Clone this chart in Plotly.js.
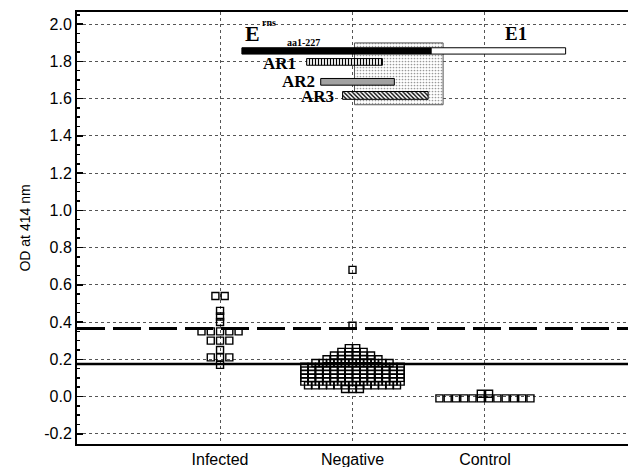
<!DOCTYPE html>
<html>
<head>
<meta charset="utf-8">
<script src="https://cdn.plot.ly/plotly-3.0.1.min.js"></script>
<style>html,body{margin:0;padding:0;background:#fff;}#chart{width:630px;height:467px;}</style>
</head>
<body>
<div id="chart"></div>
<script>
// ---- data ----
var categories = ["Infected", "Negative", "Control"];
var infectedValues = [0.54, 0.54, 0.46, 0.43, 0.40, 0.35, 0.35, 0.35, 0.35, 0.35,
  0.30, 0.30, 0.30, 0.25, 0.21, 0.21, 0.21, 0.17];
var negativeValues = [0.68, 0.38,
  0.26, 0.26,
  0.24, 0.24, 0.24, 0.24,
  0.22, 0.22, 0.22, 0.22, 0.22, 0.22,
  0.20, 0.20, 0.20, 0.20, 0.20, 0.20, 0.20, 0.20,
  0.18, 0.18, 0.18, 0.18, 0.18, 0.18, 0.18, 0.18, 0.18, 0.18, 0.18,
  0.16, 0.16, 0.16, 0.16, 0.16, 0.16, 0.16, 0.16, 0.16, 0.16, 0.16, 0.16, 0.16, 0.16,
  0.14, 0.14, 0.14, 0.14, 0.14, 0.14, 0.14, 0.14, 0.14, 0.14, 0.14, 0.14, 0.14, 0.14,
  0.12, 0.12, 0.12, 0.12, 0.12, 0.12, 0.12, 0.12, 0.12, 0.12, 0.12, 0.12, 0.12, 0.12,
  0.10, 0.10, 0.10, 0.10, 0.10, 0.10, 0.10, 0.10, 0.10, 0.10, 0.10, 0.10, 0.10, 0.10,
  0.08, 0.08, 0.08, 0.08, 0.08, 0.08, 0.08, 0.08, 0.08, 0.08, 0.08, 0.08, 0.08, 0.08,
  0.06, 0.06, 0.06, 0.06, 0.06, 0.06, 0.06, 0.06, 0.06, 0.06, 0.06, 0.06, 0.06,
  0.04, 0.04, 0.04];
var controlValues = [-0.01, -0.01, -0.01, -0.01, -0.01, -0.01, -0.01, -0.01, -0.01, -0.01, -0.01, -0.01,
  0.015, 0.015];
var cutoffDashed = 0.365;
var cutoffSolid = 0.175;
var yTickVals = [-0.2, 0.0, 0.2, 0.4, 0.6, 0.8, 1.0, 1.2, 1.4, 1.6, 1.8, 2.0];
var yTickText = ["-0.2", "0.0", "0.2", "0.4", "0.6", "0.8", "1.0", "1.2", "1.4", "1.6", "1.8", "2.0"];

// inset diagram regions (drawn in chart coordinates)
var insetNames = ["box", "Erns", "E1", "AR1", "AR2", "AR3"];
var insetStart = [2.015, 1.165, 2.594, 1.654, 1.76, 1.925];
var insetEnd   = [2.684, 2.594, 3.609, 2.226, 2.316, 2.571];
var insetY     = [1.733, 1.856, 1.856, 1.797, 1.69, 1.617];
var insetThick = [0.332, 0.034, 0.034, 0.036, 0.036, 0.042];

// ---- swarm layout ----
function swarm(vals, center, bin, dx) {
  var groups = {};
  vals.forEach(function (v) {
    var k = Math.round(v / bin);
    (groups[k] = groups[k] || []).push(v);
  });
  var xs = [], ys = [];
  Object.keys(groups).forEach(function (k) {
    var g = groups[k], n = g.length;
    g.forEach(function (v, i) {
      xs.push(center + (i - (n - 1) / 2) * dx);
      ys.push(v);
    });
  });
  return {x: xs, y: ys};
}
var sInf = swarm(infectedValues, 1, 0.03, 0.07);
var sNeg = swarm(negativeValues, 2, 0.02, 0.056);
var sCon = swarm(controlValues, 3, 0.02, 0.0625);

var mk = {symbol: "square-open", size: 7, color: "#000", line: {width: 1.4, color: "#000"}};
var traces = [];

// inset bars
var insetStyles = {
  box: {color: "#fff", line: {color: "#555", width: 1}, pattern: {shape: ".", fgcolor: "#999", bgcolor: "#fff", size: 3, solidity: 0.25}},
  Erns: {color: "#000", line: {color: "#000", width: 1}},
  E1: {color: "#fff", line: {color: "#000", width: 1}},
  AR1: {color: "#fff", line: {color: "#000", width: 1}, pattern: {shape: "|", fgcolor: "#000", bgcolor: "#fff", size: 3, solidity: 0.4}},
  AR2: {color: "#fff", line: {color: "#000", width: 1}, pattern: {shape: "-", fgcolor: "#444", bgcolor: "#fff", size: 2, solidity: 0.5}},
  AR3: {color: "#fff", line: {color: "#000", width: 1}, pattern: {shape: "\\", fgcolor: "#000", bgcolor: "#fff", size: 3, solidity: 0.45}}
};
insetNames.forEach(function (n, i) {
  traces.push({
    type: "bar", orientation: "h",
    y: [insetY[i]], base: [insetStart[i]], x: [insetEnd[i] - insetStart[i]],
    width: [insetThick[i]], marker: insetStyles[n], hoverinfo: "skip"
  });
});

// cutoff lines
traces.push({type: "scatter", mode: "lines", x: [-0.08, 4.08], y: [cutoffDashed, cutoffDashed],
  line: {color: "#000", width: 3, dash: "28px,8px"}, hoverinfo: "skip"});
traces.push({type: "scatter", mode: "lines", x: [-0.08, 4.08], y: [cutoffSolid, cutoffSolid],
  line: {color: "#000", width: 2.5}, hoverinfo: "skip"});

// points
[sInf, sNeg, sCon].forEach(function (s) {
  traces.push({type: "scatter", mode: "markers", x: s.x, y: s.y, marker: mk, cliponaxis: false});
});

var serif = "Liberation Serif, Times New Roman, serif";
var annotations = [
  {x: 1.248, y: 1.947, text: "<b>E</b>", font: {family: serif, size: 22, color: "#000"}},
  {x: 1.37, y: 2.01, text: "<b>rns</b>", font: {family: serif, size: 10, color: "#000"}},
  {x: 1.632, y: 1.9, text: "<b>aa1-227</b>", font: {family: serif, size: 10, color: "#000"}},
  {x: 3.233, y: 1.95, text: "<b>E1</b>", font: {family: serif, size: 19, color: "#000"}},
  {x: 1.586, y: 1.79, text: "<b>AR1</b>", xanchor: "right", font: {family: serif, size: 17, color: "#000"}},
  {x: 1.729, y: 1.69, text: "<b>AR2</b>", xanchor: "right", font: {family: serif, size: 17, color: "#000"}},
  {x: 1.872, y: 1.612, text: "<b>AR3</b>", xanchor: "right", font: {family: serif, size: 17, color: "#000"}}
].map(function (a) { return Object.assign({xref: "x", yref: "y", showarrow: false}, a); });

var layout = {
  width: 630, height: 467,
  margin: {l: 77, r: 2, t: 12, b: 23},
  paper_bgcolor: "#fff", plot_bgcolor: "#fff",
  showlegend: false, hovermode: false, barmode: "overlay",
  font: {family: "Liberation Sans, Arial, sans-serif", color: "#000", size: 16},
  xaxis: {
    range: [-0.08, 4.08], tickvals: [1, 2, 3], ticktext: categories,
    showgrid: true, gridcolor: "#555", griddash: "dot", gridwidth: 1,
    zeroline: false, showline: true, linecolor: "#000", linewidth: 2, mirror: true,
    ticks: "", tickfont: {size: 16}
  },
  yaxis: {
    range: [-0.255, 2.065], tickvals: yTickVals, ticktext: yTickText,
    showgrid: true, gridcolor: "#555", griddash: "dot", gridwidth: 1,
    zeroline: false, showline: true, linecolor: "#000", linewidth: 2, mirror: false,
    ticks: "inside", ticklen: 6, tickwidth: 1.5, tickcolor: "#000",
    minor: {dtick: 0.05, tick0: 0, ticks: "inside", ticklen: 3, tickcolor: "#000", showgrid: false},
    tickfont: {size: 16},
    title: {text: "OD at 414 nm", font: {size: 14}, standoff: 10}
  },
  annotations: annotations
};

Plotly.newPlot("chart", traces, layout, {staticPlot: true, displayModeBar: false});
</script>
</body>
</html>
